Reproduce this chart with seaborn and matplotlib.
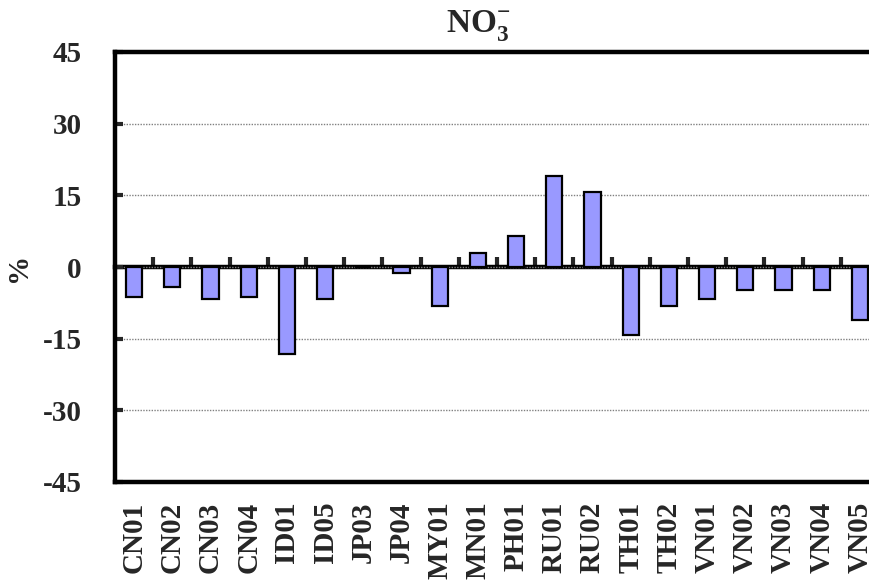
import numpy as np
import matplotlib
matplotlib.use("Agg")
import matplotlib.pyplot as plt
import seaborn as sns

sites = ["CN01", "CN02", "CN03", "CN04", "ID01", "ID05", "JP03", "JP04", "MY01", "MN01",
         "PH01", "RU01", "RU02", "TH01", "TH02", "VN01", "VN02", "VN03", "VN04", "VN05"]
values = [-6.2, -4.2, -6.8, -6.2, -18.2, -6.6, 0.0, -1.3, -8.2, 3.0,
          6.4, 19.1, 15.8, -14.3, -8.2, -6.8, -4.8, -4.8, -4.8, -11.0]
yticks = [-45, -30, -15, 0, 15, 30, 45]

sns.set_theme(style="white")
plt.rcParams["font.family"] = ["Liberation Serif", "DejaVu Serif"]
plt.rcParams["font.weight"] = "bold"
plt.rcParams["mathtext.fontset"] = "custom"
plt.rcParams["mathtext.rm"] = "Liberation Serif"
plt.rcParams["mathtext.bf"] = "Liberation Serif:bold"

fig = plt.figure(figsize=(8.69, 5.85), dpi=100)
ax = fig.add_axes([115 / 869, 103 / 585, 764 / 869, 430 / 585])

sns.barplot(x=sites, y=values, color="#9999FF", edgecolor="black", linewidth=1.6,
            width=0.42, saturation=1, ax=ax, zorder=2)

ax.set_ylim(-45, 45)
ax.set_xlim(-0.5, len(sites) - 0.5)
ax.set_yticks(yticks)
ax.set_yticklabels([str(t) for t in yticks], fontsize=21, fontweight="bold")
ax.set_xticks(range(len(sites)))
ax.set_xticklabels(sites, rotation=90, fontsize=21, fontweight="bold")
ax.tick_params(axis="x", length=0, pad=14)
ax.tick_params(axis="y", direction="in", length=6, width=3, pad=24, left=True)

ax.yaxis.grid(True, linestyle=(0, (1, 1)), color="#808080", linewidth=1)
ax.xaxis.grid(False)
ax.set_axisbelow(True)

for s in ax.spines.values():
    s.set_linewidth(3.2)
    s.set_color("black")

ax.set_xlabel("")
ax.set_ylabel("%", fontsize=21, fontweight="bold")
ax.yaxis.set_label_coords(-0.108, 0.5)

# zero axis with tick marks at category boundaries
sec = ax.secondary_xaxis(0.5)
sec.set_xticks(np.arange(0.5, len(sites) - 0.5, 1))
sec.tick_params(axis="x", direction="out", length=7, width=3,
                labeltop=False, labelbottom=False, top=True, bottom=False)
for s in sec.spines.values():
    s.set_linewidth(3.2)
    s.set_color("black")

ax.set_title(r"$\mathbf{NO}_{\mathbf{3}}^{-}$", fontsize=24, x=0.475, pad=14)

fig.savefig("out.png", dpi=100)
